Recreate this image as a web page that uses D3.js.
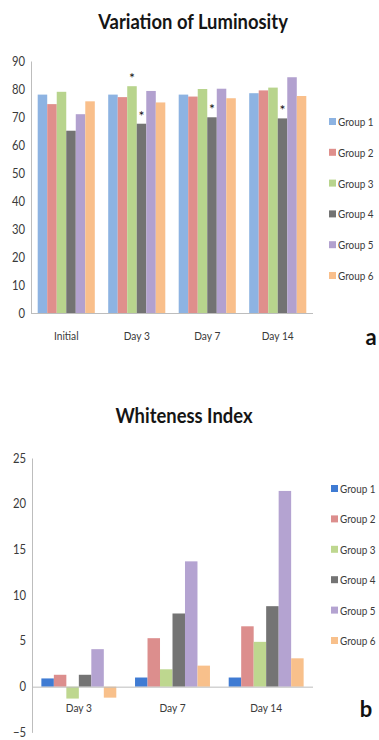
<!DOCTYPE html>
<html>
<head>
<meta charset="utf-8">
<script src="https://cdn.jsdelivr.net/npm/d3@7"></script>
<style>
  html, body { margin: 0; padding: 0; background: #fff; }
  svg { display: block; }
  text { font-family: Lato, "Open Sans", "Liberation Sans", sans-serif; }
</style>
</head>
<body>
<svg id="chart" width="379" height="740"></svg>
<script>
// ---- data ----
const groups = ["Group 1", "Group 2", "Group 3", "Group 4", "Group 5", "Group 6"];

// Panel a: luminosity
const lumCategories = ["Initial", "Day 3", "Day 7", "Day 14"];
const lumGroup1 = [78.0, 78.0, 78.0, 78.5];
const lumGroup2 = [74.6, 77.1, 77.3, 79.5];
const lumGroup3 = [79.0, 81.0, 80.0, 80.5];
const lumGroup4 = [65.1, 67.6, 69.9, 69.5];
const lumGroup5 = [71.0, 79.3, 80.1, 84.2];
const lumGroup6 = [75.6, 75.2, 76.7, 77.5];
const lumTicks = [0, 10, 20, 30, 40, 50, 60, 70, 80, 90];
// significant differences, marked with an asterisk
const lumSignificant = [
  { category: "Day 3", group: "Group 3" },
  { category: "Day 3", group: "Group 4" },
  { category: "Day 7", group: "Group 4" },
  { category: "Day 14", group: "Group 4" }
];

// Panel b: whiteness index
const wiCategories = ["Day 3", "Day 7", "Day 14"];
const wiGroup1 = [0.9, 1.0, 1.0];
const wiGroup2 = [1.3, 5.3, 6.6];
const wiGroup3 = [-1.3, 1.9, 4.9];
const wiGroup4 = [1.3, 8.0, 8.8];
const wiGroup5 = [4.1, 13.7, 21.4];
const wiGroup6 = [-1.2, 2.3, 3.1];
const wiTicks = [-5, 0, 5, 10, 15, 20, 25];

const lumSeries = [lumGroup1, lumGroup2, lumGroup3, lumGroup4, lumGroup5, lumGroup6];
const wiSeries = [wiGroup1, wiGroup2, wiGroup3, wiGroup4, wiGroup5, wiGroup6];

const colorsA = ["#8db3e2", "#df8f8c", "#b8d48d", "#737373", "#b2a1cf", "#f9bf8b"];
const colorsB = ["#3f7bd3", "#dc8e8d", "#bed78f", "#747474", "#b4a3d1", "#f8c08b"];

const svg = d3.select("#chart");

// squeeze text horizontally to mimic a condensed face
function squeeze(sel, sx) {
  sel.each(function () {
    const w = this.getComputedTextLength();
    d3.select(this).attr("textLength", w * sx).attr("lengthAdjust", "spacingAndGlyphs");
  });
  return sel;
}

function drawPanel(opt) {
  const g = svg.append("g");
  const x0 = d3.scaleBand().domain(opt.categories).range([opt.left, opt.right])
    .paddingInner(opt.pad).paddingOuter(opt.pad / 2);
  const x1 = d3.scaleBand().domain(groups).range([0, x0.bandwidth()]);
  const y = d3.scaleLinear().domain(opt.domain).range([opt.bottom, opt.top]);
  const color = d3.scaleOrdinal().domain(groups).range(opt.colors);

  const rows = [];
  opt.categories.forEach((c, i) => groups.forEach((gname, j) => {
    rows.push({ category: c, group: gname, value: opt.series[j][i] });
  }));

  // bars
  g.append("g").selectAll("rect").data(rows).join("rect")
    .attr("x", d => x0(d.category) + x1(d.group))
    .attr("width", x1.bandwidth())
    .attr("y", d => y(Math.max(0, d.value)))
    .attr("height", d => Math.abs(y(d.value) - y(0)))
    .attr("fill", d => color(d.group));

  // value axis
  const yAxis = g.append("g").attr("transform", `translate(${opt.left},0)`)
    .call(d3.axisLeft(y).tickValues(opt.ticks).tickSize(0).tickPadding(6));
  yAxis.select(".domain").attr("stroke", "#bdbdbd");
  yAxis.selectAll("text").attr("font-size", 12.5).attr("fill", "#3a3a3a")
    .call(squeeze, 0.9);

  // category axis along zero
  const xAxis = g.append("g").attr("transform", `translate(0,${y(0)})`)
    .call(d3.axisBottom(x0).tickSize(0).tickPadding(opt.labelPad).tickSizeOuter(0));
  xAxis.select(".domain").attr("stroke", "#bdbdbd").attr("d", `M${opt.left},0.5H${opt.right}`);
  xAxis.selectAll("text").attr("font-size", 12).attr("fill", "#3a3a3a")
    .call(squeeze, 0.85);

  // title
  g.append("text").attr("x", opt.titleX).attr("y", opt.titleY)
    .attr("text-anchor", "middle").attr("font-size", opt.titleSize).attr("font-weight", 700)
    .attr("fill", "#151515").text(opt.title).call(squeeze, opt.titleSqueeze);

  // legend
  const leg = g.append("g").selectAll("g").data(groups).join("g")
    .attr("transform", (d, i) => `translate(${opt.legendX},${opt.legendY + i * opt.legendStep})`);
  leg.append("rect").attr("x", 0).attr("y", -4).attr("width", 7).attr("height", 7)
    .attr("fill", d => color(d));
  leg.append("text").attr("x", opt.legendTextDx).attr("y", 4)
    .attr("font-size", 11).attr("fill", "#3a3a3a").text(d => d)
    .call(squeeze, 0.9);

  // panel letter
  g.append("text").attr("x", opt.letterX).attr("y", opt.letterY)
    .attr("text-anchor", "middle").attr("font-size", 22).attr("font-weight", 700)
    .attr("fill", "#111").text(opt.letter);

  return { g, x0, x1, y };
}

// ---- panel a ----
const a = drawPanel({
  categories: lumCategories, series: lumSeries, colors: colorsA,
  left: 31, right: 313, top: 61, bottom: 313, pad: 0.19,
  domain: [0, 90], ticks: lumTicks, labelPad: 18,
  title: "Variation of Luminosity", titleX: 193, titleY: 29, titleSize: 20, titleSqueeze: 0.92,
  legendX: 329, legendY: 122, legendStep: 30.8, legendTextDx: 9,
  letter: "a", letterX: 371, letterY: 345
});

// asterisks above significant bars
a.g.append("g").selectAll("text").data(lumSignificant).join("text")
  .attr("x", d => a.x0(d.category) + a.x1(d.group) + a.x1.bandwidth() / 2)
  .attr("y", d => {
    const v = lumSeries[groups.indexOf(d.group)][lumCategories.indexOf(d.category)];
    return a.y(v) - 3;
  })
  .attr("text-anchor", "middle").attr("font-size", 14).attr("fill", "#111").text("*");

// ---- panel b ----
drawPanel({
  categories: wiCategories, series: wiSeries, colors: colorsB,
  left: 32, right: 313, top: 458, bottom: 732.4, pad: 0.2,
  domain: [-5, 25], ticks: wiTicks, labelPad: 17,
  title: "Whiteness Index", titleX: 184, titleY: 423, titleSize: 20, titleSqueeze: 0.92,
  legendX: 331, legendY: 489, legendStep: 30.4, legendTextDx: 9,
  letter: "b", letterX: 366, letterY: 717
});
</script>
</body>
</html>
